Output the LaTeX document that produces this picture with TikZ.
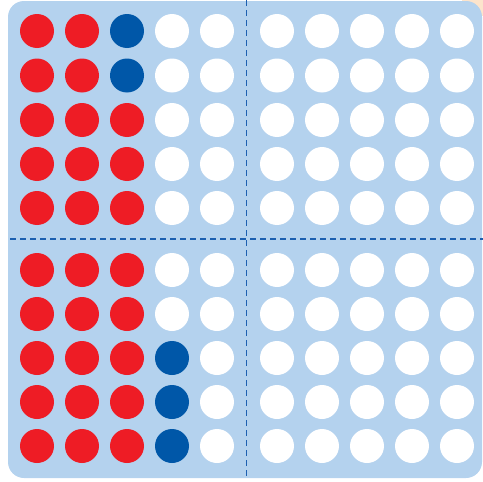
\documentclass[tikz,border=0pt]{standalone}
\definecolor{bgblue}{HTML}{B4D2EE}
\definecolor{dotred}{HTML}{EE1C25}
\definecolor{dotblue}{HTML}{0057A8}
\definecolor{dashblue}{HTML}{1C5FB0}
\definecolor{beige}{HTML}{FCE4CC}
\begin{document}
\begin{tikzpicture}[x=1pt,y=-1pt,
  dot/.style={circle,minimum size=34pt,inner sep=0pt,draw=none},
  rd/.style={dot,fill=dotred},
  bl/.style={dot,fill=dotblue},
  wh/.style={dot,fill=white},
  divider/.style={draw=dashblue,line width=1.8pt,dash pattern=on 6pt off 4pt}]
\useasboundingbox (0,0) rectangle (483,482);
\fill[beige] (462,0) rectangle (483,16);
\fill[bgblue,rounded corners=16pt] (8,1) rectangle (482,478);
\coordinate (vt) at (246.5,0);
\coordinate (vb) at (246.5,478);
\coordinate (hl) at (10,239);
\coordinate (hr) at (483,239);
\draw[divider] (vt) -- (vb);
\draw[divider] (hl) -- (hr);
\def\xs{{37,82,127,172,217,277,322,367,412,457}}
\def\ys{{31,75.5,120,164,208,270,314,358,402,446}}
\foreach \r/\pat in {0/{rd,rd,bl,wh,wh},1/{rd,rd,bl,wh,wh},2/{rd,rd,rd,wh,wh},3/{rd,rd,rd,wh,wh},4/{rd,rd,rd,wh,wh},
                      5/{rd,rd,rd,wh,wh},6/{rd,rd,rd,wh,wh},7/{rd,rd,rd,bl,wh},8/{rd,rd,rd,bl,wh},9/{rd,rd,rd,bl,wh}}{
  \foreach \s [count=\c from 0] in \pat {
    \pgfmathsetmacro{\xx}{\xs[\c]}
    \pgfmathsetmacro{\yy}{\ys[\r]}
    \node[\s] (d-\r-\c) at (\xx,\yy) {};
  }
  \foreach \c in {5,...,9}{
    \pgfmathsetmacro{\xx}{\xs[\c]}
    \pgfmathsetmacro{\yy}{\ys[\r]}
    \node[wh] (d-\r-\c) at (\xx,\yy) {};
  }
}
\end{tikzpicture}
\end{document}
